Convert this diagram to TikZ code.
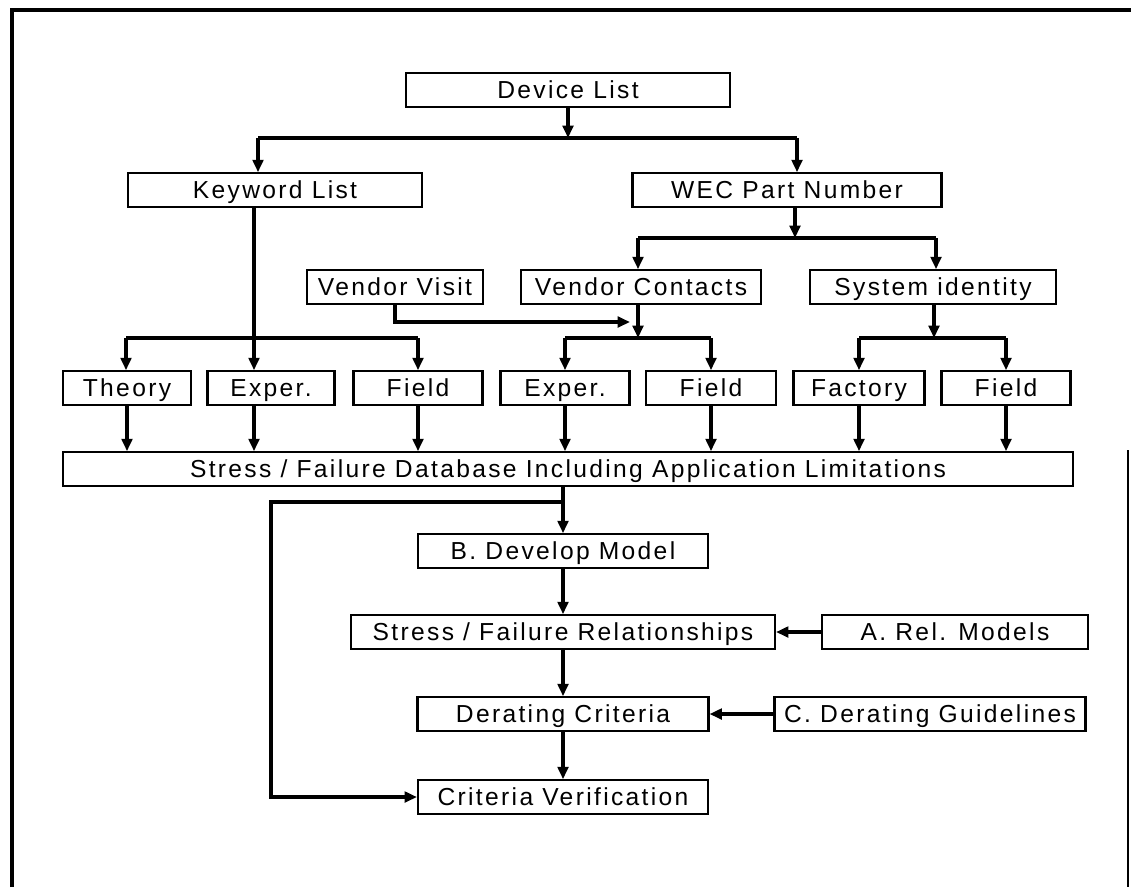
\documentclass[tikz,border=0pt]{standalone}
\usepackage{fontspec}
\setmainfont{Liberation Sans}[LetterSpace=9.5]
\usetikzlibrary{arrows.meta, positioning}

\tikzset{
  box/.style={draw, line width=1.2pt, minimum height=0.67cm, inner sep=0pt,
    text height=10pt, text depth=0.5pt, font=\fontsize{14}{16}\selectfont},
  link/.style={line width=2pt},
  >={Triangle[length=7pt, width=6pt]}
}

\begin{document}
\begin{tikzpicture}[x=0.02cm, y=-0.02cm]
  \useasboundingbox (0,0) rectangle (1131,887);
  % outer frame
  \draw[line width=1.8pt] (12,887) -- (12,10) -- (1131,10);
  \draw[line width=1.4pt] (1128,450) -- (1128,887);

  % boxes
  \node[box, minimum width=6.48cm] (dev) at (568,90) {Device List};
  \node[box, minimum width=5.88cm] (key) at (275,190) {Keyword List};
  \node[box, minimum width=6.18cm] (wec) at (787,190) {WEC Part Number};
  \node[box, minimum width=3.52cm] (visit) at (395,287) {Vendor Visit};
  \node[box, minimum width=4.8cm] (contacts) at (641,287) {Vendor Contacts};
  \node[box, minimum width=4.92cm] (sysid) at (933,287) {System identity};

  \node[box, minimum width=2.56cm] (theory) at (127,388) {Theory};
  \node[box, minimum width=2.54cm] (exper1) at (271,388) {Exper.};
  \node[box, minimum width=2.58cm] (field1) at (418,388) {Field};
  \node[box, minimum width=2.58cm] (exper2) at (565,388) {Exper.};
  \node[box, minimum width=2.6cm] (field2) at (711,388) {Field};
  \node[box, minimum width=2.62cm] (factory) at (859,388) {Factory};
  \node[box, minimum width=2.58cm] (field3) at (1006,388) {Field};

  \node[box, minimum width=20.22cm] (db) at (568,469) {Stress / Failure Database Including Application Limitations};

  \node[box, minimum width=5.8cm] (develop) at (563,551) {B. Develop Model};
  \node[box, minimum width=8.48cm] (rel) at (563,632) {Stress / Failure Relationships};
  \node[box, minimum width=5.32cm] (amodels) at (955,632) {A. Rel. Models};
  \node[box, minimum width=5.82cm] (derating) at (563,714) {Derating Criteria};
  \node[box, minimum width=6.22cm] (guide) at (930,714) {C. Derating Guidelines};
  \node[box, minimum width=5.8cm] (verif) at (563,797) {Criteria Verification};

  % branch points
  \coordinate (b1) at (568,138);
  \coordinate (b1l) at (258,138);
  \coordinate (b1r) at (797,138);
  \coordinate (b2) at (795,238);
  \coordinate (b2l) at (638,238);
  \coordinate (b2r) at (936,238);
  \coordinate (vj) at (630,322);
  \coordinate (b3) at (638,338);
  \coordinate (b3l) at (565,338);
  \coordinate (b3r) at (711,338);
  \coordinate (b4) at (934,338);
  \coordinate (b4l) at (859,338);
  \coordinate (b4r) at (1006,338);
  \coordinate (b5) at (254,338);
  \coordinate (b5l) at (126,338);
  \coordinate (b5r) at (418,338);
  \coordinate (lp) at (563,502);
  \coordinate (lpl) at (271,502);

  % top tree
  \draw[link, ->] (dev) -- (b1);
  \draw[link] (b1l) -- (b1r);
  \draw[link, ->] (b1l) -- (b1l |- key.north);
  \draw[link, ->] (b1r) -- (b1r |- wec.north);
  \draw[link, ->] (b2 |- wec.south) -- (b2);
  \draw[link] (b2l) -- (b2r);
  \draw[link, ->] (b2l) -- (b2l |- contacts.north);
  \draw[link, ->] (b2r) -- (b2r |- sysid.north);
  \draw[link, ->] (visit) |- (vj);

  % second level branches
  \draw[link, ->] (b5 |- key.south) -- (b5 |- exper1.north);
  \draw[link] (b5l) -- (b5r);
  \draw[link, ->] (b5l) -- (b5l |- theory.north);
  \draw[link, ->] (b5r) -- (b5r |- field1.north);
  \draw[link, ->] (b3 |- contacts.south) -- (b3);
  \draw[link] (b3l) -- (b3r);
  \draw[link, ->] (b3l) -- (b3l |- exper2.north);
  \draw[link, ->] (b3r) -- (b3r |- field2.north);
  \draw[link, ->] (b4 |- sysid.south) -- (b4);
  \draw[link] (b4l) -- (b4r);
  \draw[link, ->] (b4l) -- (b4l |- factory.north);
  \draw[link, ->] (b4r) -- (b4r |- field3.north);

  % into the database
  \foreach \n/\d in {theory/0cm, exper1/-0.34cm, field1/0cm, exper2/0cm, field2/0cm, factory/0cm, field3/0cm}
    \draw[link, ->] ([xshift=\d]\n.south) -- ([xshift=\d]\n.south |- db.north);

  % lower chain
  \draw[link, ->] (lp |- db.south) -- (develop);
  \draw[link, ->] (lp) -- (lpl) |- (verif);
  \draw[link, ->] (develop) -- (rel);
  \draw[link, ->] (amodels) -- (rel);
  \draw[link, ->] (rel) -- (derating);
  \draw[link, ->] (guide) -- (derating);
  \draw[link, ->] (derating) -- (verif);
\end{tikzpicture}
\end{document}
